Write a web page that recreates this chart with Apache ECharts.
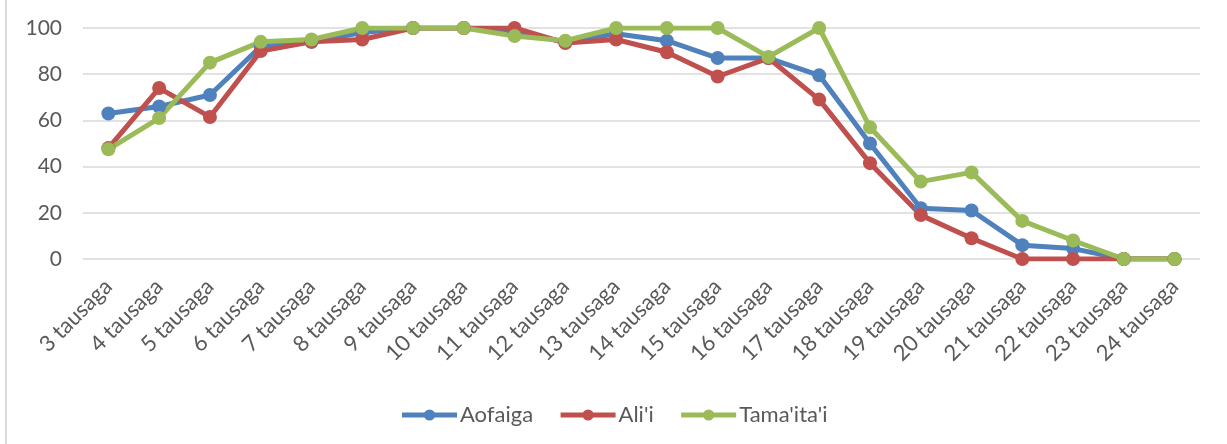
<!DOCTYPE html>
<html>
<head>
<meta charset="utf-8">
<script src="https://cdn.jsdelivr.net/npm/echarts@6/dist/echarts.min.js"></script>
<style>
    html, body { margin: 0; padding: 0; background: #fff; }
    #chart { position: absolute; left: 0; top: 0; width: 1227px; height: 444px; }
    #frame { position: absolute; left: 5px; top: 0; width: 0; height: 444px; border-left: 2px solid #d9d9d9; }
</style>
</head>
<body>
<div id="frame"></div>
<div id="chart"></div>
<script>
const categories = [
    "3 tausaga", "4 tausaga", "5 tausaga", "6 tausaga", "7 tausaga", "8 tausaga",
    "9 tausaga", "10 tausaga", "11 tausaga", "12 tausaga", "13 tausaga", "14 tausaga",
    "15 tausaga", "16 tausaga", "17 tausaga", "18 tausaga", "19 tausaga", "20 tausaga",
    "21 tausaga", "22 tausaga", "23 tausaga", "24 tausaga",
];

const aofaiga = [63, 66, 71, 92, 94, 98, 100, 100, 98, 94, 97.5, 94.5, 87, 87, 79.5, 50, 22, 21, 6, 4.5, 0, 0];
const alii = [48, 74, 61.5, 90, 94, 95, 100, 100, 100, 93.5, 95, 89.5, 79, 87, 69, 41.5, 19, 9, 0, 0, 0, 0];
const tamaitai = [47.5, 61, 85, 94, 95, 100, 100, 100, 96.5, 94.5, 100, 100, 100, 87.5, 100, 57, 33.5, 37.5, 16.5, 8, 0, 0];

const yTicks = [0, 20, 40, 60, 80, 100];

const seriesDefs = [
    { name: "Aofaiga", data: aofaiga, color: "#4f81bd" },
    { name: "Ali'i", data: alii, color: "#c0504d" },
    { name: "Tama'ita'i", data: tamaitai, color: "#9bbb59" },
];

const chart = echarts.init(document.getElementById("chart"));

const option = {
    animation: false,
    textStyle: { fontFamily: "Lato" },
    legend: {
        top: 399,
        left: "center",
        itemWidth: 55,
        itemHeight: 14,
        itemGap: 25,
        lineStyle: { width: 5 },
        textStyle: { fontSize: 22, color: "#595959", padding: [0, 0, 0, -2] },
        data: seriesDefs.map((s) => s.name),
    },
    grid: {
        left: 83,
        right: 27,
        top: 28,
        bottom: 185,
    },
    xAxis: {
        type: "category",
        data: categories,
        boundaryGap: true,
        axisLine: { show: false },
        axisTick: { show: false },
        axisLabel: {
            rotate: 45,
            interval: 0,
            fontSize: 22,
            color: "#595959",
            margin: 24,
        },
    },
    yAxis: {
        type: "value",
        min: yTicks[0],
        max: yTicks[yTicks.length - 1],
        interval: 20,
        axisLine: { show: false },
        axisTick: { show: false },
        axisLabel: { fontSize: 21, color: "#595959", margin: 21 },
        splitLine: { lineStyle: { color: "#d9d9d9", width: 1.5 } },
    },
    series: seriesDefs.map((s) => ({
        name: s.name,
        type: "line",
        data: s.data,
        symbol: "circle",
        symbolSize: 14,
        lineStyle: { width: 5, color: s.color },
        itemStyle: { color: s.color },
    })),
};

chart.setOption(option);
</script>
</body>
</html>
